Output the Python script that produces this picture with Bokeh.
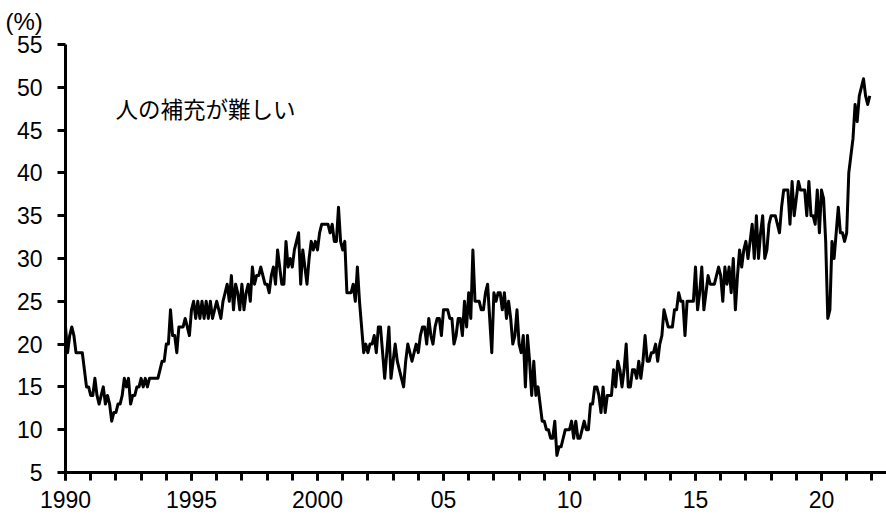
from bokeh.plotting import figure
from bokeh.models import Label, SingleIntervalTicker, Range1d, Title
from bokeh.embed import file_html
from bokeh.resources import INLINE
import numpy as np

# Monthly values, Jan 1990 - Dec 2021 (%)
y1990 = [22, 19, 21, 22, 21, 19, 19, 19, 19, 17, 15, 15]
y1991 = [14, 14, 16, 14, 13, 14, 15, 13, 14, 13, 11, 12]
y1992 = [12, 13, 13, 14, 16, 15, 16, 13, 14, 14, 15, 15]
y1993 = [16, 15, 16, 15, 16, 16, 16, 16, 16, 17, 18, 18]
y1994 = [20, 20, 24, 21, 21, 19, 22, 22, 22, 23, 22, 21]
y1995 = [24, 25, 23, 25, 23, 25, 23, 25, 23, 25, 23, 24]
y1996 = [25, 24, 23, 25, 26, 27, 25, 28, 24, 27, 26, 24]
y1997 = [27, 24, 26, 27, 25, 29, 27, 28, 28, 29, 28, 27]
y1998 = [27, 26, 28, 29, 27, 31, 29, 27, 27, 32, 29, 30]
y1999 = [29, 31, 32, 33, 27, 31, 29, 27, 30, 32, 31, 32]
y2000 = [31, 33, 34, 34, 34, 34, 33, 34, 32, 32, 36, 32]
y2001 = [31, 32, 26, 26, 26, 27, 25, 29, 25, 22, 19, 20]
y2002 = [19, 20, 20, 21, 19, 22, 22, 19, 16, 19, 22, 16]
y2003 = [18, 20, 18, 17, 16, 15, 18, 20, 19, 18, 19, 20]
y2004 = [19, 21, 22, 22, 20, 23, 21, 20, 22, 23, 23, 21]
y2005 = [24, 24, 24, 23, 23, 20, 21, 23, 23, 21, 25, 22]
y2006 = [26, 23, 31, 25, 25, 25, 24, 24, 26, 27, 23, 19]
y2007 = [26, 25, 26, 26, 24, 26, 23, 25, 23, 20, 21, 24]
y2008 = [20, 19, 21, 15, 21, 18, 14, 18, 14, 15, 13, 11]
y2009 = [11, 10, 10, 9, 9, 11, 7, 8, 8, 9, 10, 10]
y2010 = [10, 11, 9, 11, 9, 9, 10, 11, 10, 10, 13, 13]
y2011 = [15, 15, 14, 12, 15, 12, 14, 14, 14, 17, 15, 18]
y2012 = [17, 15, 17, 20, 15, 15, 17, 17, 16, 18, 16, 18]
y2013 = [21, 18, 18, 19, 19, 20, 18, 20, 21, 24, 23, 22]
y2014 = [22, 22, 24, 24, 26, 25, 25, 21, 25, 25, 25, 25]
y2015 = [29, 24, 26, 29, 24, 26, 28, 27, 27, 27, 28, 29]
y2016 = [28, 25, 29, 27, 29, 26, 30, 24, 28, 31, 29, 31]
y2017 = [32, 30, 32, 34, 30, 35, 30, 33, 35, 30, 31, 34]
y2018 = [35, 35, 35, 34, 33, 36, 38, 38, 38, 34, 39, 35]
y2019 = [37, 39, 38, 38, 38, 35, 39, 35, 35, 34, 38, 33]
y2020 = [38, 37, 32, 23, 24, 32, 30, 33, 36, 33, 33, 32]
y2021 = [33, 40, 42, 44, 48, 46, 49, 50, 51, 49, 48, 49]

start_year = 1990
x_tick_labels = {1990: "1990", 1995: "1995", 2000: "2000", 2005: "05",
                 2010: "10", 2015: "15", 2020: "20"}
annotation = "人の補充が難しい"
unit_label = "(%)"

series = (y1990 + y1991 + y1992 + y1993 + y1994 + y1995 + y1996 + y1997 +
          y1998 + y1999 + y2000 + y2001 + y2002 + y2003 + y2004 + y2005 +
          y2006 + y2007 + y2008 + y2009 + y2010 + y2011 + y2012 + y2013 +
          y2014 + y2015 + y2016 + y2017 + y2018 + y2019 + y2020 + y2021)
xs = start_year + np.arange(len(series)) / 12.0

FONT = "Liberation Sans"

p = figure(width=886, height=517, output_backend="svg", toolbar_location=None,
           x_range=Range1d(1990, 2022.58), y_range=Range1d(5, 55),
           min_border_left=65, min_border_right=0, min_border_top=44,
           min_border_bottom=45)
p.title = None
p.outline_line_color = None
p.xgrid.visible = False
p.ygrid.visible = False
p.background_fill_color = "white"
p.border_fill_color = "white"

p.line(xs, series, line_width=3, line_color="black", line_join="round")

# x axis
xa = p.xaxis[0]
xa.ticker = SingleIntervalTicker(interval=5, num_minor_ticks=5)
xa.major_label_overrides = x_tick_labels
xa.axis_line_width = 3
xa.axis_line_color = "black"
xa.major_tick_in = 0
xa.major_tick_out = 8
xa.minor_tick_in = 0
xa.minor_tick_out = 8
xa.major_tick_line_width = 3
xa.minor_tick_line_width = 3
xa.major_tick_line_color = "black"
xa.minor_tick_line_color = "black"
xa.major_label_text_font = FONT
xa.major_label_text_font_size = "23px"
xa.major_label_text_color = "black"
xa.major_label_standoff = 10

# y axis
ya = p.yaxis[0]
ya.ticker = SingleIntervalTicker(interval=5, num_minor_ticks=0)
ya.axis_line_width = 3
ya.axis_line_color = "black"
ya.major_tick_in = 0
ya.major_tick_out = 8
ya.minor_tick_out = 0
ya.minor_tick_in = 0
ya.major_tick_line_width = 3
ya.major_tick_line_color = "black"
ya.major_label_text_font = FONT
ya.major_label_text_font_size = "23px"
ya.major_label_text_color = "black"
ya.major_label_standoff = 15

p.add_layout(Title(text=unit_label, align="left", offset=-60,
                   vertical_align="top", standoff=15, text_font=FONT,
                   text_font_size="24px", text_font_style="normal",
                   text_color="black"), "above")
p.add_layout(Label(x=1991.98, y=47.6, text=annotation,
                   text_font="Noto Sans CJK JP", text_font_size="22.5px",
                   text_color="black", text_baseline="middle",
                   text_align="left"))

open("out.html", "w").write(file_html(p, INLINE))
